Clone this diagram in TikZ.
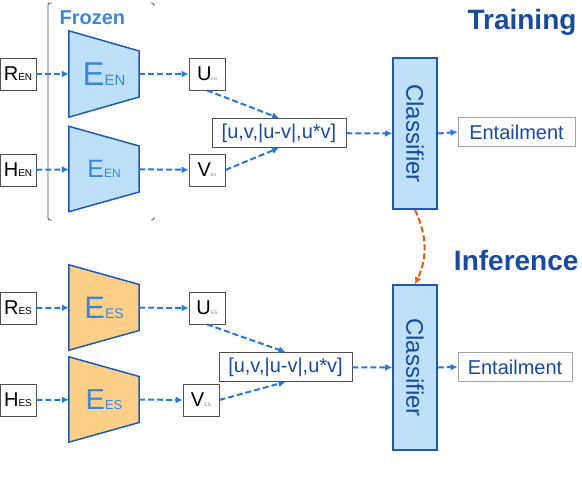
\documentclass[tikz,border=0pt]{standalone}
\usepackage{fontspec}
\setmainfont{Liberation Sans}
\usetikzlibrary{arrows.meta, calc, backgrounds}
\definecolor{encFill}{RGB}{190, 224, 248}
\definecolor{encLine}{RGB}{30, 90, 180}
\definecolor{esFill}{RGB}{253, 208, 138}
\definecolor{encText}{RGB}{62, 134, 216}
\definecolor{darkBlue}{RGB}{24, 74, 158}
\definecolor{flowBlue}{RGB}{40, 120, 214}
\definecolor{fbOrange}{RGB}{232, 90, 16}
\definecolor{boxGray}{RGB}{80, 80, 80}

\begin{document}
\begin{tikzpicture}[x=1pt, y=1pt,
  io/.style={draw=boxGray, line width=0.8pt, minimum width=36pt,
             minimum height=32pt, inner sep=0pt},
  enc/.style={inner sep=0pt, minimum width=70pt, text=encText},
  concat/.style={draw=boxGray, line width=0.8pt, minimum height=29pt,
                 inner sep=0pt, text=darkBlue, font=\fontsize{20}{20}\selectfont},
  clsbox/.style={draw=encLine, fill=encFill, line width=1.5pt,
                 minimum width=44pt, inner sep=0pt, text=darkBlue,
                 font=\fontsize{24}{24}\selectfont},
  outbox/.style={draw=gray!70, line width=0.8pt, minimum width=117pt,
                 minimum height=29pt, inner sep=0pt, text=darkBlue,
                 font=\fontsize{20}{20}\selectfont},
  flow/.style={draw=flowBlue, line width=2pt, dash pattern=on 6pt off 3pt,
               -{Latex[length=7pt, width=7pt]}},
  feedback/.style={draw=fbOrange, line width=2pt, dash pattern=on 6pt off 3pt,
                   -{Latex[length=7pt, width=7pt]}},
  phase/.style={font=\fontsize{28}{28}\selectfont\bfseries, text=darkBlue},
]
  \useasboundingbox (0,0) rectangle (582,484);

  % ── Titres ──
  \node[phase, anchor=east] (train) at (580,462) {Training};
  \node[phase, anchor=east] (infer) at (582,224) {Inference};
  \node[anchor=west, font=\fontsize{20}{20}\selectfont\bfseries, text=encText]
    (frozen) at (56,466) {Frozen};

  % ── Cadre "Frozen" ──
  \draw[boxGray, line width=0.8pt, rounded corners=2pt]
    (52,481) -- (48,481) -- (48,264) -- (52,264);
  \draw[boxGray, line width=0.8pt, rounded corners=1.5pt]
    (151,481) -- (154,481) -- (154,478);
  \draw[boxGray, line width=0.8pt, rounded corners=1.5pt]
    (154,267) -- (154,264) -- (151,264);

  % ── Entrées (EN / ES) ──
  \node[io, font=\fontsize{20}{20}\selectfont] (rEN) at (18,410)
    {R{\fontsize{10}{10}\selectfont EN}};
  \node[io, font=\fontsize{20}{20}\selectfont] (hEN) at (18,314)
    {H{\fontsize{10}{10}\selectfont EN}};
  \node[io, font=\fontsize{20}{20}\selectfont] (rES) at (18,176)
    {R{\fontsize{10}{10}\selectfont ES}};
  \node[io, font=\fontsize{20}{20}\selectfont] (hES) at (18,84)
    {H{\fontsize{10}{10}\selectfont ES}};

  % ── Encodeurs ──
  \node[enc, minimum height=86pt] (encEN1) at (104,410)
    {{\fontsize{33}{33}\selectfont E}{\fontsize{15}{15}\selectfont EN}};
  \node[enc, minimum height=85pt] (encEN2) at (104,315)
    {{\fontsize{25}{25}\selectfont E}{\fontsize{12}{12}\selectfont EN}};
  \node[enc, minimum height=85pt] (encES1) at (104,176.5)
    {{\fontsize{31}{31}\selectfont E}{\fontsize{14}{14}\selectfont ES}};
  \node[enc, minimum height=85pt] (encES2) at (104,84.5)
    {{\fontsize{29}{29}\selectfont E}{\fontsize{13}{13}\selectfont ES}};

  % ── Vecteurs u / v ──
  \node[io, font=\fontsize{20}{20}\selectfont] (uEN) at (207,410)
    {U{\fontsize{4}{4}\selectfont\color{gray} EN}};
  \node[io, font=\fontsize{20}{20}\selectfont] (vEN) at (207,314)
    {V{\fontsize{4}{4}\selectfont\color{gray} EN}};
  \node[io, font=\fontsize{20}{20}\selectfont] (uES) at (207,176)
    {U{\fontsize{5}{5}\selectfont\color{gray} ES}};
  \node[io, font=\fontsize{20}{20}\selectfont] (vES) at (201,84)
    {V{\fontsize{5}{5}\selectfont\color{gray} ES}};

  % ── Concaténation ──
  \node[concat, minimum width=134pt] (catEN) at (279,351) {[u,v,|u-v|,u*v]};
  \node[concat, minimum width=133pt] (catES) at (285.5,117) {[u,v,|u-v|,u*v]};

  % ── Classifieurs et sorties ──
  \node[clsbox, minimum height=151pt] (clsEN) at (415,350.5)
    {\rotatebox{-90}{Classifier}};
  \node[clsbox, minimum height=165pt] (clsES) at (415,116.5)
    {\rotatebox{-90}{Classifier}};
  \node[outbox] (entEN) at (516.5,352) {Entailment};
  \node[outbox, minimum width=114pt] (entES) at (515,117) {Entailment};

  % ── Trapèzes (arrière-plan) ──
  \begin{scope}[on background layer]
    \filldraw[fill=encFill, draw=encLine, line width=1.5pt]
      (encEN1.north west) -- ($(encEN1.east)+(0,23)$) --
      ($(encEN1.east)+(0,-23)$) -- (encEN1.south west) -- cycle;
    \filldraw[fill=encFill, draw=encLine, line width=1.5pt]
      (encEN2.north west) -- ($(encEN2.east)+(0,23)$) --
      ($(encEN2.east)+(0,-23)$) -- (encEN2.south west) -- cycle;
    \filldraw[fill=esFill, draw=encLine, line width=1.5pt]
      (encES1.north west) -- ($(encES1.east)+(0,23)$) --
      ($(encES1.east)+(0,-23)$) -- (encES1.south west) -- cycle;
    \filldraw[fill=esFill, draw=encLine, line width=1.5pt]
      (encES2.north west) -- ($(encES2.east)+(0,23)$) --
      ($(encES2.east)+(0,-23)$) -- (encES2.south west) -- cycle;
  \end{scope}

  % ── Flèches ──
  \draw[flow] (rEN) -- (encEN1);
  \draw[flow] (hEN) -- (encEN2);
  \draw[flow] (rES) -- (encES1);
  \draw[flow] (hES) -- (encES2);
  \draw[flow] (encEN1) -- (uEN);
  \draw[flow] (encEN2) -- (vEN);
  \draw[flow] (encES1) -- (uES);
  \draw[flow] (encES2.east) -- (vES.west);
  \draw[flow] (uEN.south) -- (catEN.north);
  \draw[flow] (vEN.east) -- (catEN.south);
  \draw[flow] (uES.south) -- (catES.north);
  \draw[flow] (vES.east) -- (catES.south);
  \draw[flow] (catEN) -- (clsEN);
  \draw[flow] (catES) -- (clsES);
  \draw[flow] (clsEN.east) -- (entEN.west);
  \draw[flow] (clsES.east) -- (entES.west);
  \draw[feedback] (clsEN.south) to[bend left=25] (clsES.north);

\end{tikzpicture}
\end{document}
